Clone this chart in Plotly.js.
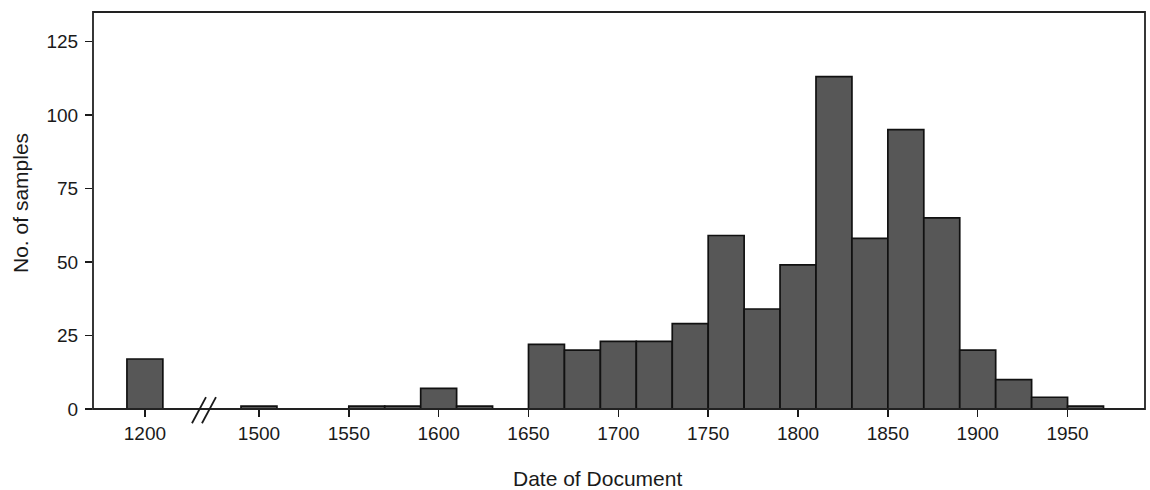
<!DOCTYPE html>
<html>
<head>
<meta charset="utf-8">
<script src="https://cdn.plot.ly/plotly-3.0.1.min.js"></script>
<style>
  html, body { margin: 0; padding: 0; background: #fff; }
  #chart { width: 1150px; height: 490px; }
</style>
</head>
<body>
<div id="chart"></div>
<script>
// Document dates, binned in 20-year intervals (start year of each bin).
// The single 13th-century bin sits on its own segment of the axis.
const earlyBinStart = [1190];
const earlyCounts = [17];

const binStart = [1490, 1550, 1570, 1590, 1610, 1650, 1670, 1690, 1710, 1730,
                  1750, 1770, 1790, 1810, 1830, 1850, 1870, 1890, 1910, 1930, 1950];
const counts   = [1, 1, 1, 7, 1, 22, 20, 23, 23, 29,
                  59, 34, 49, 113, 58, 95, 65, 20, 10, 4, 1];

const binWidth = 20;
const earlyTicks = [1200];
const lateTicks = [1500, 1550, 1600, 1650, 1700, 1750, 1800, 1850, 1900, 1950];
const yTicks = [0, 25, 50, 75, 100, 125];

const FONT = 'Liberation Sans, Arial, Helvetica, sans-serif';
const INK = '#1a1a1a';
const barStyle = {
  color: '#575757',
  line: { color: '#111', width: 1.7 }
};

const traces = [
  {
    type: 'bar', x: earlyBinStart, y: earlyCounts,
    width: earlyBinStart.map(() => binWidth), offset: 0,
    marker: barStyle, xaxis: 'x', yaxis: 'y', hoverinfo: 'x+y'
  },
  {
    type: 'bar', x: binStart, y: counts,
    width: binStart.map(() => binWidth), offset: 0,
    marker: barStyle, xaxis: 'x2', yaxis: 'y', hoverinfo: 'x+y'
  }
];

const split = 0.1055; // where the broken axis jumps from 1200 to 1500

const tickFont = { family: FONT, size: 19, color: INK };
const commonX = {
  type: 'linear', showgrid: false, zeroline: false, showline: false,
  ticks: 'outside', ticklen: 7, tickwidth: 1.5, tickcolor: INK,
  tickfont: tickFont, anchor: 'y', fixedrange: true
};

const layout = {
  width: 1150, height: 490,
  margin: { l: 93, r: 5, t: 12, b: 81 },
  paper_bgcolor: '#fff', plot_bgcolor: '#fff',
  showlegend: false, bargap: 0,
  font: { family: FONT, color: INK },
  xaxis: Object.assign({}, commonX, {
    domain: [0, split], range: [1171.1, 1232.9],
    tickmode: 'array', tickvals: earlyTicks, ticktext: earlyTicks.map(String)
  }),
  xaxis2: Object.assign({}, commonX, {
    domain: [split, 1], range: [1469.4, 1993.1],
    tickmode: 'array', tickvals: lateTicks, ticktext: lateTicks.map(String)
  }),
  yaxis: {
    range: [0, 135], showgrid: false, zeroline: false,
    showline: false, ticks: 'outside', ticklen: 7, tickwidth: 1.5,
    tickcolor: INK, tickfont: tickFont, ticklabelstandoff: 3,
    tickmode: 'array', tickvals: yTicks, ticktext: yTicks.map(String),
    fixedrange: true
  },
  shapes: [
    // plot frame
    { type: 'rect', xref: 'paper', yref: 'paper', x0: 0, x1: 1, y0: 0, y1: 1,
      line: { color: '#222', width: 1.8 }, layer: 'above' },
    // axis-break marks
    { type: 'line', xref: 'paper', yref: 'paper', x0: 0.0941, y0: -0.036, x1: 0.1074, y1: 0.030,
      line: { color: INK, width: 1.8 } },
    { type: 'line', xref: 'paper', yref: 'paper', x0: 0.1036, y0: -0.036, x1: 0.1169, y1: 0.030,
      line: { color: INK, width: 1.8 } }
  ],
  annotations: [
    { text: 'Date of Document', xref: 'paper', yref: 'paper', x: 0.48, y: -0.175,
      xanchor: 'center', yanchor: 'middle', showarrow: false,
      font: { family: FONT, size: 21, color: INK } },
    { text: 'No. of samples', xref: 'paper', yref: 'paper', x: -0.069, y: 0.52,
      xanchor: 'center', yanchor: 'middle', textangle: -90, showarrow: false,
      font: { family: FONT, size: 21, color: INK } }
  ]
};

Plotly.newPlot('chart', traces, layout, { displayModeBar: false, staticPlot: true });
</script>
</body>
</html>
